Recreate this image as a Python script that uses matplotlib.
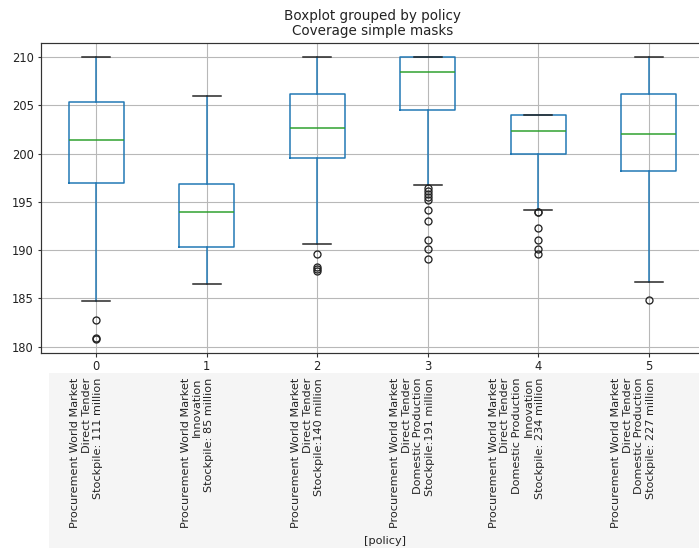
import matplotlib
matplotlib.use("Agg")
import matplotlib.pyplot as plt
import matplotlib.transforms as mtransforms
from matplotlib.patches import Rectangle

# ---- data ----
groups = ["0", "1", "2", "3", "4", "5"]
policy_labels = [
    "Procurement World Market\nDirect Tender\nStockpile: 111 million",
    "Procurement World Market\nInnovation\nStockpile: 85 million",
    "Procurement World Market\nDirect Tender\nStockpile:140 million",
    "Procurement World Market\nDirect Tender\nDomestic Production\nStockpile:191 million",
    "Procurement World Market\nDirect Tender\nDomestic Production\nInnovation\nStockpile: 234 million",
    "Procurement World Market\nDirect Tender\nDomestic Production\nStockpile: 227 million",
]
whislo = [184.7, 186.5, 190.6, 196.7, 194.2, 186.7]
q1 = [197.0, 190.3, 199.5, 204.5, 200.0, 198.2]
med = [201.4, 193.9, 202.7, 208.5, 202.3, 202.0]
q3 = [205.3, 196.9, 206.2, 210.0, 204.0, 206.2]
whishi = [210.0, 206.0, 210.0, 210.0, 204.0, 210.0]
fliers = [
    [182.8, 180.9, 180.8],
    [],
    [189.6, 188.3, 188.0, 187.8],
    [196.4, 196.1, 195.8, 195.5, 195.2, 194.2, 193.0, 191.1, 190.1, 189.1],
    [194.0, 193.9, 192.3, 191.0, 190.1, 189.6],
    [184.8],
]
title_top = "Boxplot grouped by policy"
title_ax = "Coverage simple masks"
xlabel = "[policy]"

W, H, DPI = 699, 548, 72
fig = plt.figure(figsize=(W / DPI, H / DPI), dpi=DPI)

# light gray band behind the long labels
fig.patches.append(Rectangle((49 / W, 0), 1, (H - 373) / H, transform=fig.transFigure,
                             facecolor="#f5f5f5", edgecolor="none", zorder=0))

left, right, top, bottom = 41, 704, 43, 353
ax = fig.add_axes([left / W, (H - bottom) / H, (right - left) / W, (bottom - top) / H])

stats = []
for i in range(len(groups)):
    stats.append(dict(med=med[i], q1=q1[i], q3=q3[i], whislo=whislo[i],
                      whishi=whishi[i], fliers=fliers[i], label=groups[i]))

LW = 1.5
positions = list(range(1, len(groups) + 1))
ax.bxp(stats, positions=positions, widths=0.5,
       boxprops=dict(color="C0", linewidth=LW),
       whiskerprops=dict(color="C0", linewidth=LW),
       capprops=dict(color="#222222", linewidth=LW),
       medianprops=dict(color="C2", linewidth=LW),
       flierprops=dict(marker="o", markerfacecolor="none", markeredgecolor="#222222",
                       markersize=7, markeredgewidth=1.3))
ax.set_xlim(0.5, len(groups) + 0.5)
ax.grid(True, color="#b8b8b8", linewidth=1.1)
ax.set_axisbelow(True)
for s in ax.spines.values():
    s.set_linewidth(1.2)
    s.set_color("#333333")
ax.tick_params(labelsize=11.5, width=1.1, color="#333333", labelcolor="#222222")
ax.set_xticks(positions)
ax.set_xticklabels(groups)
cx = (left + right) / 2 / W
fig.text(cx, 1 - 16 / H, title_top, ha="center", va="center", fontsize=13.5, color="#222222")
fig.text(cx, 1 - 31 / H, title_ax, ha="center", va="center", fontsize=13.5, color="#222222")

# long rotated policy labels under the ticks
blend = mtransforms.blended_transform_factory(ax.transData, fig.transFigure)
trans = mtransforms.offset_copy(blend, fig=fig, x=7, y=0, units="dots")
for p, lab in zip(positions, policy_labels):
    fig.text(p, 1 - 378 / H, lab, transform=trans, rotation=90, ha="right", va="top",
             multialignment="right", fontsize=11.2, linespacing=1.2, zorder=3,
             color="#222222")

fig.text(385 / W, 1 - 541 / H, xlabel, ha="center", va="center", fontsize=11.2, color="#222222")

fig.savefig("out.png", dpi=DPI)
